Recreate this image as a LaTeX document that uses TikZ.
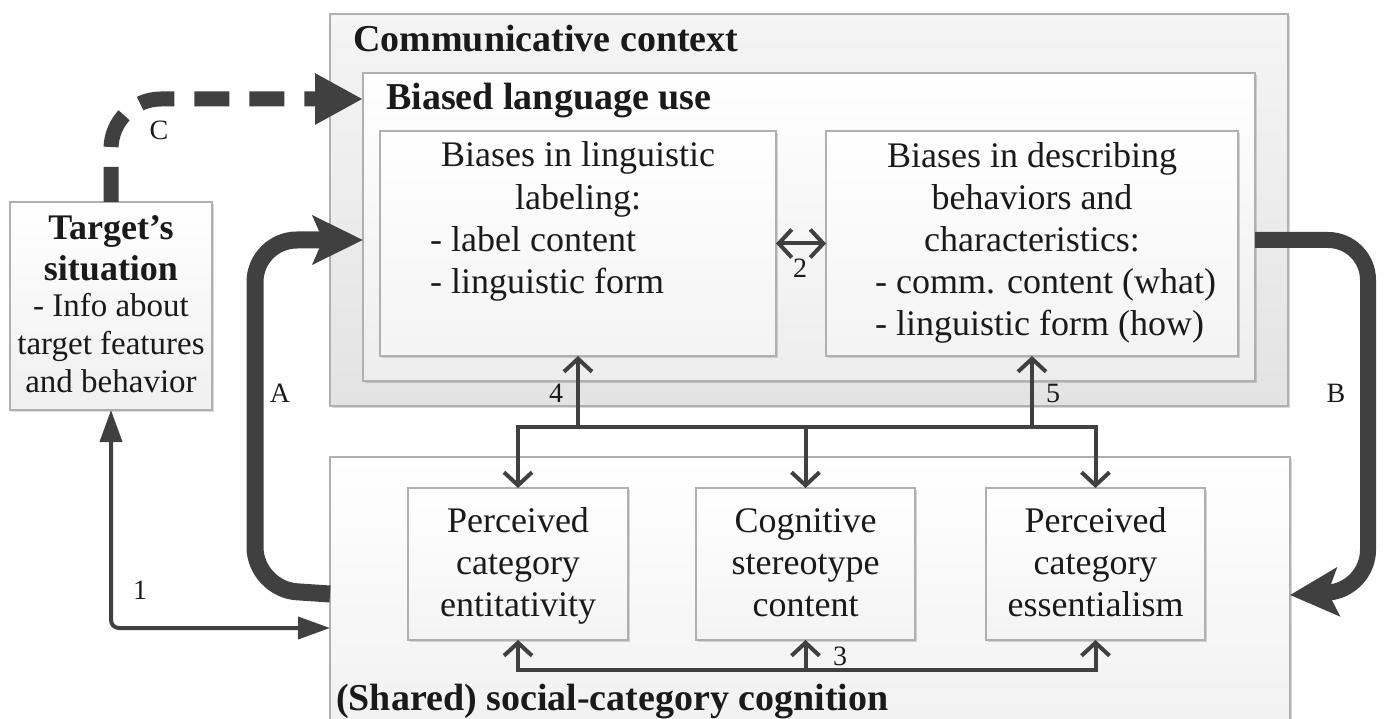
\documentclass[tikz,border=0pt]{standalone}
\usepackage{fontspec}
\setmainfont{Liberation Serif}
\usetikzlibrary{arrows.meta,shadows}
\definecolor{ln}{HTML}{404040}
\definecolor{bd}{HTML}{B0B0B0}
\definecolor{tx}{HTML}{1A1A1A}
\tikzset{
  box/.style={draw=bd, line width=1.5pt, inner sep=0pt, outer sep=0pt, anchor=north west,
    drop shadow={shadow xshift=2pt, shadow yshift=-2pt, opacity=0.15, fill=black}},
  body/.style={text=tx, font=\fontsize{36}{42}\selectfont, inner sep=0pt, anchor=base},
  bodyl/.style={body, anchor=base west},
  tbody/.style={text=tx, font=\fontsize{33}{40}\selectfont, inner sep=0pt, anchor=base},
  tbold/.style={text=tx, font=\bfseries\fontsize{36}{40}\selectfont, inner sep=0pt, anchor=base},
  ttl/.style={text=tx, font=\bfseries\fontsize{38}{44}\selectfont, inner sep=0pt, anchor=base west},
  lbl/.style={text=tx, font=\fontsize{28}{32}\selectfont, inner sep=0pt},
  thin/.style={draw=ln, line width=4pt, >={Straight Barb[length=13pt,width=28pt]}},
  fat/.style={draw=ln, line width=17pt},
}
\begin{document}
\begin{tikzpicture}[x=1pt,y=-1pt]
\useasboundingbox (0,0) rectangle (1386,719);
\clip (0,0) rectangle (1386,719);

% containers
\node[box, minimum width=958pt, minimum height=392pt, top color=gray!8, bottom color=gray!22] (comm) at (330,14) {};
\node[box, minimum width=892pt, minimum height=308pt, top color=white, bottom color=gray!14] (biased) at (363,73) {};
\node[box, minimum width=396pt, minimum height=225pt, top color=white, bottom color=gray!9] (L1) at (380,131) {};
\node[box, minimum width=412pt, minimum height=225pt, top color=white, bottom color=gray!9] (R1) at (826,131) {};
\node[box, minimum width=960pt, minimum height=300pt, top color=white, bottom color=gray!12] (social) at (330,457) {};
\node[box, minimum width=220pt, minimum height=152pt, top color=white, bottom color=gray!9] (P1) at (408,488) {};
\node[box, minimum width=219pt, minimum height=152pt, top color=white, bottom color=gray!9] (P2) at (696,488) {};
\node[box, minimum width=219pt, minimum height=152pt, top color=white, bottom color=gray!9] (P3) at (986,488) {};
\node[box, minimum width=202pt, minimum height=208pt, top color=white, bottom color=gray!12] (target) at (10,202) {};

% titles
\node[ttl] (tcomm) at (353,52) {Communicative context};
\node[ttl] (tbiased) at (386,110) {Biased language use};
\node[ttl] (tsocial) at (336,710) {(Shared) social-category cognition};

% L1 text
\node[body] (l1a) at (578,167) {Biases in linguistic};
\node[body] (l1b) at (578,210) {labeling:};
\node[bodyl] (l1c) at (430,252) {- label content};
\node[bodyl] (l1d) at (430,293) {- linguistic form};

% R1 text
\node[body] (r1a) at (1032,168) {Biases in describing};
\node[body] (r1b) at (1032,210) {behaviors and};
\node[body] (r1c) at (1032,252) {characteristics:};
\node[bodyl] (r1d) at (875,293) {- comm. content (what)};
\node[bodyl] (r1e) at (875,335) {- linguistic form (how)};

% Target text
\node[tbold] (ta) at (111,240) {Target’s};
\node[tbold] (tb) at (111,280) {situation};
\node[tbody] (tc) at (111,316) {- Info about};
\node[tbody] (td) at (111,354) {target features};
\node[tbody] (te) at (111,392) {and behavior};

% P texts
\node[body] (p1a) at (518,532) {Perceived};
\node[body] (p1b) at (518,574) {category};
\node[body] (p1c) at (518,616) {entitativity};
\node[body] (p2a) at (805.5,532) {Cognitive};
\node[body] (p2b) at (805.5,574) {stereotype};
\node[body] (p2c) at (805.5,616) {content};
\node[body] (p3a) at (1095.5,532) {Perceived};
\node[body] (p3b) at (1095.5,574) {category};
\node[body] (p3c) at (1095.5,616) {essentialism};

% thin connectors
\coordinate (bus) at (0,427);
\coordinate (bus3) at (0,670);
\draw[thin, <->] (L1.east) -- (R1.west);
\draw[thin, <->] (P1.north) |- (P2.north |- bus) -| (P3.north);
\draw[thin, ->] (P2.north |- bus) -- (P2.north);
\draw[thin, ->] (L1.south |- bus) -- (L1.south);
\draw[thin, ->] (R1.south |- bus) -- (R1.south);
\draw[thin, <->] (P1.south) |- (P2.south |- bus3) -| (P3.south);
\draw[thin, ->] (P2.south |- bus3) -- (P2.south);
\draw[draw=ln, line width=4pt, rounded corners=8pt, {Triangle[length=32pt,width=22pt]}-{Triangle[length=32pt,width=22pt]}]
  (target.south) |- ([yshift=-21pt]social.west);

% thick connectors
\draw[fat, rounded corners=42pt, -{Stealth[length=50pt,width=48pt,inset=10pt]}]
  ([yshift=13pt]social.west) -- (255,589) -- (255,240) -- ([yshift=-13pt]biased.west);
\draw[fat, line width=16pt, rounded corners=40pt, -{Stealth[length=48pt,width=48pt,inset=10pt]}]
  ([yshift=-13pt]biased.east) -- (1368,240) -- (1368,590) -- ([yshift=12pt]social.east);
\draw[fat, line width=15pt, rounded corners=50pt, dash pattern=on 35pt off 20pt, -{Triangle[length=48pt,width=48pt]}]
  (target.north) -- (111,99) -- ([yshift=128pt]biased.west);

% labels
\node[lbl] (lA) at (280,393) {A};
\node[lbl] (lB) at (1336,393) {B};
\node[lbl] (lC) at (159,130) {C};
\node[lbl] (l1) at (140,590) {1};
\node[lbl] (l2) at (800,268) {2};
\node[lbl] (l3) at (840,656) {3};
\node[lbl] (l4) at (556,393) {4};
\node[lbl] (l5) at (1053,393) {5};
\end{tikzpicture}
\end{document}
